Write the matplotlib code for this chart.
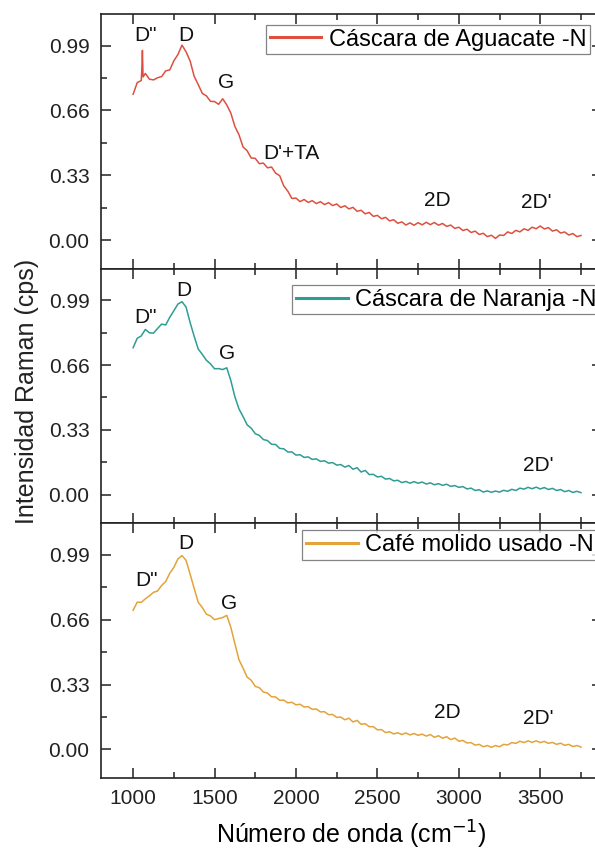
import numpy as np
import matplotlib
matplotlib.use("Agg")
import matplotlib.pyplot as plt
from matplotlib.ticker import MultipleLocator, FormatStrFormatter

plt.rcParams["font.family"] = ["Liberation Sans", "DejaVu Sans"]

# wavenumber grid (cm-1) the spectra were read on
wn = np.arange(1000, 3751, 25)

aguacate = [
    0.742, 0.801, 0.812, 0.848, 0.819, 0.815, 0.826, 0.832, 0.861, 0.866,
    0.912, 0.944, 0.992, 0.958, 0.911, 0.833, 0.791, 0.746, 0.734, 0.706,
    0.705, 0.691, 0.719, 0.688, 0.646, 0.578, 0.536, 0.474, 0.455, 0.418,
    0.416, 0.389, 0.392, 0.368, 0.372, 0.341, 0.328, 0.276, 0.249, 0.212,
    0.214, 0.196, 0.207, 0.192, 0.201, 0.186, 0.196, 0.181, 0.191, 0.176,
    0.184, 0.166, 0.175, 0.159, 0.167, 0.147, 0.152, 0.134, 0.141, 0.121,
    0.126, 0.109, 0.116, 0.098, 0.104, 0.086, 0.093, 0.077, 0.088, 0.076,
    0.089, 0.078, 0.091, 0.079, 0.090, 0.076, 0.085, 0.070, 0.077, 0.060,
    0.066, 0.049, 0.056, 0.039, 0.046, 0.029, 0.035, 0.018, 0.025, 0.009,
    0.026, 0.024, 0.042, 0.034, 0.050, 0.042, 0.058, 0.050, 0.066, 0.058,
    0.072, 0.057, 0.064, 0.046, 0.053, 0.036, 0.042, 0.026, 0.034, 0.018,
    0.024,
]
# narrow D'' spike of the avocado sample
spike_x = [1054, 1057, 1061]
spike_y = [0.88, 0.965, 0.83]

naranja = [
    0.748, 0.796, 0.808, 0.841, 0.824, 0.822, 0.846, 0.868, 0.864, 0.903,
    0.936, 0.970, 0.982, 0.955, 0.876, 0.806, 0.741, 0.714, 0.684, 0.666,
    0.641, 0.642, 0.637, 0.646, 0.581, 0.498, 0.437, 0.398, 0.356, 0.339,
    0.311, 0.302, 0.281, 0.276, 0.257, 0.256, 0.236, 0.234, 0.218, 0.218,
    0.202, 0.204, 0.190, 0.193, 0.180, 0.183, 0.170, 0.173, 0.161, 0.164,
    0.151, 0.154, 0.141, 0.149, 0.130, 0.138, 0.116, 0.124, 0.103, 0.104,
    0.091, 0.094, 0.080, 0.083, 0.071, 0.074, 0.062, 0.068, 0.059, 0.067,
    0.059, 0.065, 0.055, 0.061, 0.051, 0.057, 0.048, 0.054, 0.043, 0.047,
    0.038, 0.042, 0.030, 0.034, 0.022, 0.026, 0.014, 0.020, 0.013, 0.019,
    0.014, 0.023, 0.018, 0.028, 0.022, 0.034, 0.029, 0.038, 0.031, 0.039,
    0.030, 0.037, 0.027, 0.033, 0.022, 0.027, 0.016, 0.022, 0.012, 0.018,
    0.011,
]

cafe = [
    0.708, 0.749, 0.748, 0.766, 0.781, 0.799, 0.806, 0.834, 0.854, 0.896,
    0.926, 0.969, 0.986, 0.962, 0.891, 0.819, 0.748, 0.722, 0.688, 0.679,
    0.660, 0.666, 0.671, 0.682, 0.621, 0.538, 0.456, 0.414, 0.368, 0.352,
    0.321, 0.314, 0.292, 0.287, 0.268, 0.267, 0.250, 0.251, 0.237, 0.240,
    0.227, 0.230, 0.216, 0.218, 0.204, 0.206, 0.191, 0.192, 0.177, 0.178,
    0.163, 0.165, 0.151, 0.159, 0.140, 0.148, 0.128, 0.131, 0.116, 0.116,
    0.100, 0.101, 0.086, 0.090, 0.079, 0.085, 0.076, 0.084, 0.074, 0.081,
    0.072, 0.078, 0.068, 0.076, 0.062, 0.070, 0.057, 0.065, 0.050, 0.058,
    0.042, 0.046, 0.033, 0.035, 0.022, 0.026, 0.014, 0.020, 0.011, 0.020,
    0.014, 0.026, 0.023, 0.035, 0.031, 0.042, 0.035, 0.044, 0.036, 0.044,
    0.035, 0.041, 0.031, 0.036, 0.026, 0.032, 0.021, 0.026, 0.015, 0.020,
    0.012,
]

labels = ["Cáscara de Aguacate -N", "Cáscara de Naranja -N", "Café molido usado -N"]
colors = ["#DD5040", "#2E9D93", "#E3A33A"]

# band labels per panel: (text, wavenumber, intensity)
bands = [
    [('D"', 1074, 1.04), ("D", 1322, 1.04), ("G", 1569, 0.80),
     ("D'+TA", 1971, 0.44), ("2D", 2868, 0.20), ("2D'", 3476, 0.19)],
    [('D"', 1074, 0.90), ("D", 1311, 1.04), ("G", 1579, 0.72),
     ("2D'", 3486, 0.15)],
    [('D"', 1081, 0.86), ("D", 1322, 1.05), ("G", 1590, 0.74),
     ("2D", 2929, 0.19), ("2D'", 3486, 0.16)],
]
legend_top = [0.957, 0.935, 0.972]
legend_right = [0.975, 0.995, 0.99]

x1 = np.concatenate([wn, spike_x])
y1 = np.concatenate([aguacate, spike_y])
order = np.argsort(x1)
series = [(x1[order], y1[order]), (wn, np.array(naranja)), (wn, np.array(cafe))]

fig, axes = plt.subplots(3, 1, figsize=(5.95, 8.51), dpi=100, sharex=True)
fig.subplots_adjust(left=0.169, right=1.012, top=0.9835, bottom=0.0858, hspace=0)

for i, ax in enumerate(axes):
    x, y = series[i]
    ax.plot(x, y, color=colors[i], lw=1.1, label=labels[i])
    for txt, bx, by in bands[i]:
        ax.text(bx, by, txt, fontsize=15, ha="center", va="center", color="#111111")
    ax.set_xlim(800, 3880)
    ax.set_ylim(-0.145, 1.15)
    ax.yaxis.set_major_locator(MultipleLocator(0.33))
    ax.yaxis.set_minor_locator(MultipleLocator(0.165))
    ax.yaxis.set_major_formatter(FormatStrFormatter("%.2f"))
    ax.xaxis.set_major_locator(MultipleLocator(500))
    ax.xaxis.set_minor_locator(MultipleLocator(250))
    ax.tick_params(which="both", direction="in", top=True, right=True,
                   labelsize=15, width=1.1, colors="#222222", pad=8)
    ax.tick_params(which="major", length=7)
    ax.tick_params(which="minor", length=4)
    for s in ax.spines.values():
        s.set_linewidth(1.2)
        s.set_color("#222222")
    leg = ax.legend(loc="upper right", bbox_to_anchor=(legend_right[i], legend_top[i]),
                    fontsize=17, frameon=True, fancybox=False, borderpad=0.15,
                    handlelength=2.2, handletextpad=0.3, borderaxespad=0)
    leg.get_frame().set_edgecolor("#666666")
    leg.get_frame().set_linewidth(0.9)
    for h in leg.get_lines():
        h.set_linewidth(2.2)

axes[-1].set_xlabel("Número de onda (cm$^{-1}$)", fontsize=18, labelpad=8)
fig.text(0.045, 0.54, "Intensidad Raman (cps)", rotation=90, fontsize=18,
         ha="center", va="center", color="#222222")

fig.savefig("out.png", dpi=100)
